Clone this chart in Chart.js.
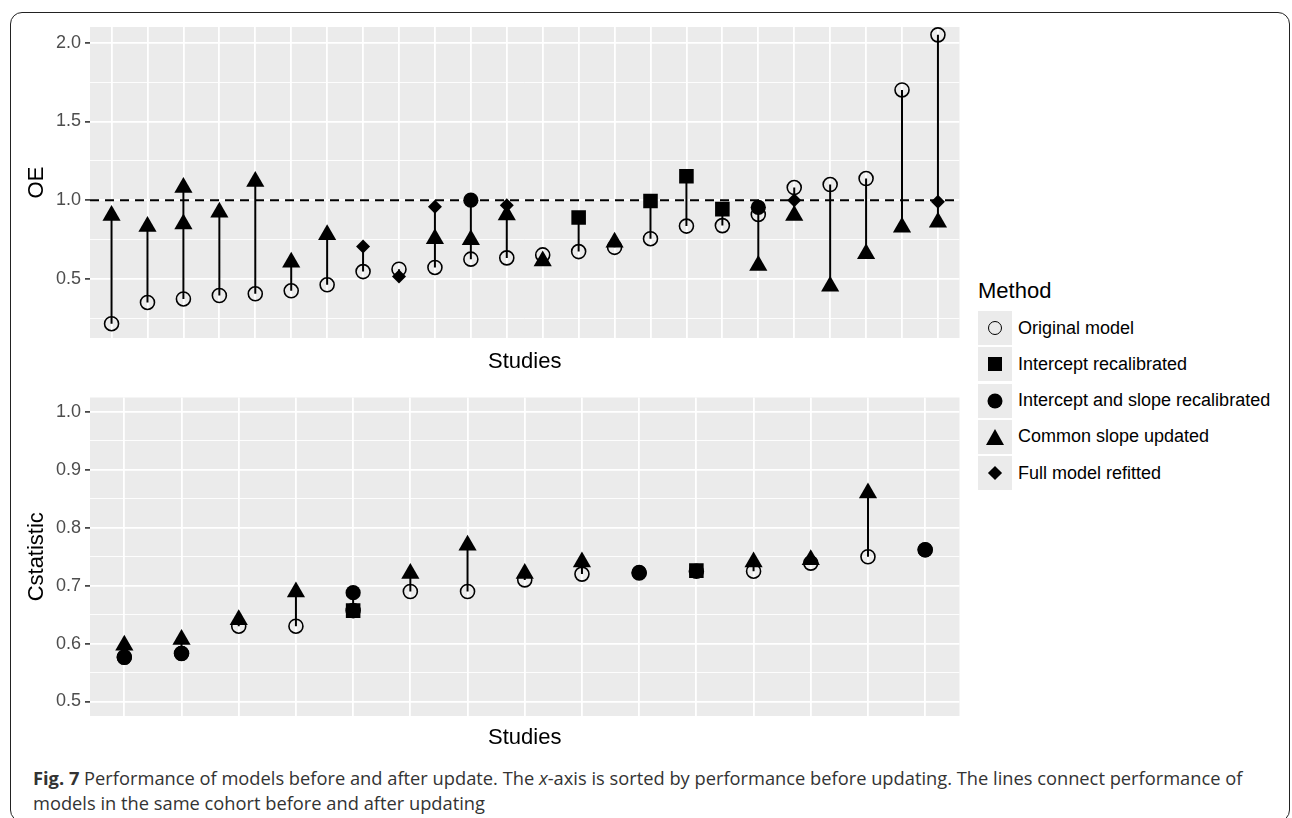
<!DOCTYPE html>
<html>
<head>
<meta charset="utf-8">
<script src="https://cdn.jsdelivr.net/npm/chart.js@4.4.1/dist/chart.umd.min.js"></script>
<style>
  body { margin: 0; background: #fff; width: 1292px; height: 818px; overflow: hidden; position: relative; }
  #frame { position: absolute; left: 10px; top: 12px; width: 1278px; height: 808px; border: 1.5px solid #222; border-radius: 12px; }
  canvas { position: absolute; left: 0; }
  #oeChart { top: 0; }
  #cChart { top: 380px; }
  #legend { position: absolute; left: 978px; top: 278px; font-family: "Liberation Sans", Arial, sans-serif; color: #000; }
  #legend .ltitle { font-size: 22px; line-height: 26px; margin-bottom: 7px; }
  #legend .row { display: flex; align-items: center; height: 34px; margin-bottom: 2.3px; }
  #legend .key { width: 34px; height: 34px; background: #ebebeb; position: relative; margin-right: 6px; }
  #legend .lbl { font-size: 18px; }
  .m { position: absolute; left: 50%; top: 50%; transform: translate(-50%, -50%); }
  .open { width: 12px; height: 12px; border: 1.6px solid #000; border-radius: 50%; }
  .sq { width: 14px; height: 14px; background: #000; }
  .dot { width: 15px; height: 15px; background: #000; border-radius: 50%; }
  .tri { width: 0; height: 0; border-left: 9px solid transparent; border-right: 9px solid transparent; border-bottom: 16px solid #000; }
  .dia { width: 10px; height: 10px; background: #000; transform: translate(-50%, -50%) rotate(45deg); }
  #caption { position: absolute; left: 33px; top: 765px; font-family: "Open Sans", sans-serif; font-size: 18.3px; line-height: 25px; color: #333; white-space: nowrap; }
</style>
</head>
<body>
<div id="frame"></div>
<canvas id="oeChart" width="970" height="380"></canvas>
<canvas id="cChart" width="970" height="375"></canvas>

<div id="legend">
  <div class="ltitle">Method</div>
  <div class="row"><span class="key"><span class="m open"></span></span><span class="lbl">Original model</span></div>
  <div class="row"><span class="key"><span class="m sq"></span></span><span class="lbl">Intercept recalibrated</span></div>
  <div class="row"><span class="key"><span class="m dot"></span></span><span class="lbl">Intercept and slope recalibrated</span></div>
  <div class="row"><span class="key"><span class="m tri"></span></span><span class="lbl">Common slope updated</span></div>
  <div class="row"><span class="key"><span class="m dia"></span></span><span class="lbl">Full model refitted</span></div>
</div>

<div id="caption"><b>Fig. 7</b> Performance of models before and after update. The <i>x</i>-axis is sorted by performance before updating. The lines connect performance of<br>models in the same cohort before and after updating</div>

<script>
// ---- OE panel (24 studies, sorted by original OE) ----
const oeStudies = [1, 2, 3, 4, 5, 6, 7, 8, 9, 10, 11, 12, 13, 14, 15, 16, 17, 18, 19, 20, 21, 22, 23, 24];
const oeOriginal = [0.215, 0.35, 0.372, 0.394, 0.405, 0.424, 0.462, 0.546, 0.561, 0.572, 0.625, 0.633,
                    0.652, 0.673, 0.70, 0.755, 0.835, 0.838, 0.909, 1.08, 1.099, 1.137, 1.70, 2.05];
const oeInterceptRecal = [null, null, null, null, null, null, null, null, null, null, null, null,
                          null, 0.89, null, 0.994, 1.152, 0.943, null, null, null, null, null, null];
const oeInterceptSlope = [null, null, null, null, null, null, null, null, null, null, 1.0, null,
                          null, null, null, null, null, null, 0.954, null, null, null, null, null];
const oeCommonSlope = [0.902, 0.832, [1.081, 0.849], 0.923, 1.119, 0.606, 0.78, null, null, 0.754, 0.748, 0.906,
                       0.613, null, 0.733, null, null, null, 0.585, 0.902, 0.453, 0.66, 0.828, 0.859];
const oeFullRefit = [null, null, null, null, null, null, null, 0.705, 0.515, 0.958, null, 0.968,
                     null, null, null, null, null, null, null, 1.0, null, null, null, 0.99];
const oeMajorTicks = [0.5, 1.0, 1.5, 2.0];
const oeMinorTicks = [0.25, 0.75, 1.25, 1.75];
const oeRange = [0.124, 2.10];
const oeRefValue = 1.0;

// ---- C statistic panel (15 studies) ----
const cStudies = [1, 2, 3, 4, 5, 6, 7, 8, 9, 10, 11, 12, 13, 14, 15];
const cOriginal = [0.577, 0.583, 0.630, 0.630, 0.657, 0.690, 0.690, 0.710, 0.720, 0.722, 0.725, 0.725, 0.739, 0.750, 0.762];
const cInterceptRecal = [null, null, null, null, 0.657, null, null, null, null, null, 0.726, null, null, null, null];
const cInterceptSlope = [0.576, 0.583, null, null, 0.688, null, null, null, null, 0.723, null, null, null, null, 0.762];
const cCommonSlope = [0.597, 0.607, 0.641, 0.689, null, 0.721, 0.770, 0.721, 0.741, null, null, 0.741, 0.745, 0.860, null];
const cFullRefit = [null, null, null, null, null, null, null, null, null, null, null, null, null, null, null];
const cMajorTicks = [0.5, 0.6, 0.7, 0.8, 0.9, 1.0];
const cMinorTicks = [0.55, 0.65, 0.75, 0.85, 0.95];
const cRange = [0.475, 1.025];

const FONT = '"Liberation Sans", Arial, sans-serif';

function toPoints(studies, values) {
  const out = [];
  studies.forEach((s, i) => {
    const v = values[i];
    if (v == null) return;
    (Array.isArray(v) ? v : [v]).forEach(y => out.push({x: s, y: y}));
  });
  return out;
}

// one vertical segment per study, from lowest to highest value of that study
function segments(studies, orig, updates) {
  const out = [];
  studies.forEach((s, i) => {
    let vals = [orig[i]];
    updates.forEach(u => { if (u[i] != null) vals = vals.concat(u[i]); });
    out.push({x: s, y: Math.min(...vals)}, {x: s, y: Math.max(...vals)}, {x: s, y: null});
  });
  return out;
}

const panelBg = {
  id: 'panelBg',
  beforeDraw(chart) {
    const a = chart.chartArea, ctx = chart.ctx;
    ctx.save();
    ctx.fillStyle = '#ebebeb';
    ctx.fillRect(a.left, a.top, a.right - a.left, a.bottom - a.top);
    ctx.restore();
  }
};

const refLine = {
  id: 'refLine',
  beforeDatasetsDraw(chart, args, opts) {
    if (opts.value == null) return;
    const a = chart.chartArea, ctx = chart.ctx;
    const y = chart.scales.y.getPixelForValue(opts.value);
    ctx.save();
    ctx.strokeStyle = '#000';
    ctx.lineWidth = 2;
    ctx.setLineDash([9, 6]);
    ctx.beginPath();
    ctx.moveTo(a.left, y);
    ctx.lineTo(a.right, y);
    ctx.stroke();
    ctx.restore();
  }
};

function panel(elm, cfg) {
  const updates = [cfg.interceptRecal, cfg.interceptSlope, cfg.commonSlope, cfg.fullRefit];
  const yTicks = cfg.major.concat(cfg.minor).sort((a, b) => a - b);
  const isMajor = v => cfg.major.some(m => Math.abs(m - v) < 1e-6);
  const ctx = document.getElementById(elm).getContext('2d');
  return new Chart(ctx, {
    type: 'scatter',
    data: {
      datasets: [
        {
          type: 'line', label: 'lines', data: segments(cfg.studies, cfg.original, updates),
          showLine: true, spanGaps: false, pointRadius: 0, borderColor: '#000', borderWidth: 2, order: 10
        },
        {
          label: 'Original model', data: toPoints(cfg.studies, cfg.original), order: 9,
          pointStyle: 'circle', pointRadius: 7, pointBackgroundColor: 'rgba(0,0,0,0)',
          pointBorderColor: '#000', pointBorderWidth: 1.6
        },
        {
          label: 'Intercept recalibrated', data: toPoints(cfg.studies, cfg.interceptRecal), order: 5,
          pointStyle: 'rect', pointRadius: 10.3, pointBackgroundColor: '#000', pointBorderWidth: 0
        },
        {
          label: 'Intercept and slope recalibrated', data: toPoints(cfg.studies, cfg.interceptSlope), order: 4,
          pointStyle: 'circle', pointRadius: 7.6, pointBackgroundColor: '#000', pointBorderWidth: 0
        },
        {
          label: 'Common slope updated', data: toPoints(cfg.studies, cfg.commonSlope), order: 3,
          pointStyle: 'triangle', pointRadius: 10.5, pointBackgroundColor: '#000', pointBorderWidth: 0
        },
        {
          label: 'Full model refitted', data: toPoints(cfg.studies, cfg.fullRefit), order: 2,
          pointStyle: 'rectRot', pointRadius: 7, pointBackgroundColor: '#000', pointBorderWidth: 0
        }
      ]
    },
    options: {
      responsive: false,
      animation: false,
      events: [],
      layout: { padding: { top: cfg.padTop, right: 8, left: 0, bottom: 0 } },
      plugins: {
        legend: { display: false },
        tooltip: { enabled: false },
        refLine: { value: cfg.refValue }
      },
      scales: {
        x: {
          type: 'linear',
          min: 0.4,
          max: cfg.studies.length + 0.6,
          afterBuildTicks: axis => { axis.ticks = cfg.studies.map(v => ({ value: v })); },
          afterFit: axis => { axis.height = cfg.xAxisHeight; },
          ticks: { display: false, autoSkip: false },
          grid: { color: '#ffffff', lineWidth: 1.8, drawTicks: false },
          border: { display: false },
          title: {
            display: true, text: 'Studies', color: '#000',
            font: { family: FONT, size: 22 }, padding: { top: 0, bottom: cfg.xTitlePad }
          }
        },
        y: {
          type: 'linear',
          min: cfg.range[0],
          max: cfg.range[1],
          afterBuildTicks: axis => { axis.ticks = yTicks.map(v => ({ value: v })); },
          afterFit: axis => { axis.width = 90; },
          ticks: {
            autoSkip: false,
            padding: 4,
            color: '#4d4d4d',
            font: { family: FONT, size: 18 },
            callback: v => isMajor(v) ? v.toFixed(1) : ''
          },
          grid: {
            color: '#ffffff',
            lineWidth: c => isMajor(c.tick.value) ? 1.8 : 0.9,
            tickColor: c => isMajor(c.tick.value) ? '#333333' : 'rgba(0,0,0,0)',
            tickLength: 5,
            tickWidth: 1.6
          },
          border: { display: false },
          title: {
            display: true, text: cfg.yTitle, color: '#000',
            font: { family: FONT, size: 22 }, padding: { top: 24, bottom: 0 }
          }
        }
      }
    },
    plugins: [panelBg, refLine]
  });
}

panel('oeChart', {
  studies: oeStudies, original: oeOriginal, interceptRecal: oeInterceptRecal,
  interceptSlope: oeInterceptSlope, commonSlope: oeCommonSlope, fullRefit: oeFullRefit,
  major: oeMajorTicks, minor: oeMinorTicks, range: oeRange, refValue: oeRefValue,
  yTitle: 'OE', padTop: 27, xAxisHeight: 42, xTitlePad: 5
});

panel('cChart', {
  studies: cStudies, original: cOriginal, interceptRecal: cInterceptRecal,
  interceptSlope: cInterceptSlope, commonSlope: cCommonSlope, fullRefit: cFullRefit,
  major: cMajorTicks, minor: cMinorTicks, range: cRange, refValue: null,
  yTitle: 'Cstatistic', padTop: 17.5, xAxisHeight: 39, xTitlePad: 4
});
</script>
</body>
</html>
